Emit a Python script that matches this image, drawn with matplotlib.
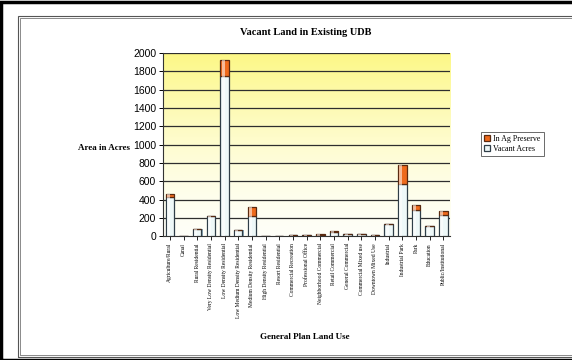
import numpy as np
import matplotlib
matplotlib.use("Agg")
import matplotlib.pyplot as plt
from matplotlib.patches import Rectangle

categories = [
    "Agriculture/Rural", "Canal", "Rural Residential", "Very Low Density Residential",
    "Low Density Residential", "Low Medium Density Residential", "Medium Density Residential",
    "High Density Residential", "Resort Residential", "Commercial Recreation",
    "Professional Office", "Neighborhood Commercial", "Retail Commercial",
    "General Commercial", "Commercial Mixed use", "Downtown Mixed Use", "Industrial",
    "Industrial Park", "Park", "Education", "Public/Institutional",
]
vacant_acres = [425, 5, 75, 215, 1750, 65, 225, 5, 5, 8, 8, 15, 40, 25, 28, 8, 135, 565, 285, 115, 230]
ag_preserve = [40, 0, 0, 0, 170, 0, 90, 0, 0, 0, 0, 5, 12, 0, 0, 0, 0, 210, 55, 0, 45]
y_ticks = list(range(0, 2001, 200))

fig = plt.figure(figsize=(5.72, 3.6), dpi=100)
fig.patch.set_facecolor("white")

# page frame: heavy outer rule and a thin double inner rule
fig.add_artist(Rectangle((0.002, 0.0), 1.2, 0.995, transform=fig.transFigure,
                         fill=False, ec="black", lw=2.5))
fig.add_artist(Rectangle((0.031, 0.008), 1.2, 0.948, transform=fig.transFigure,
                         fill=False, ec="#555555", lw=0.8))
fig.add_artist(Rectangle((0.035, 0.014), 1.2, 0.936, transform=fig.transFigure,
                         fill=False, ec="#777777", lw=0.6))

ax = fig.add_axes([0.285, 0.344, 0.502, 0.509])
x = np.arange(len(categories))
ax.set_xlim(-0.5, len(categories) - 0.5)
ax.set_ylim(0, 2000)

# yellow-to-white wall gradient
grad = np.linspace(0, 1, 256).reshape(-1, 1)
top = np.array([0.99, 0.97, 0.52])
bottom = np.array([1.0, 1.0, 0.97])
img = bottom + (top - bottom) * grad ** 1.5
img = np.repeat(img[:, None, :], 2, axis=1)
ax.imshow(img, extent=[-0.5, len(categories) - 0.5, 0, 2000], origin="lower",
          aspect="auto", zorder=0)

for yv in y_ticks[1:]:
    ax.axhline(yv, color="#2e2e2e", lw=0.9, zorder=1)

w = 0.62
vac = np.array(vacant_acres)
ag = np.array(ag_preserve)
# depth shading behind each column
ax.bar(x + 0.08, vac + ag, width=w, bottom=0, color="#8aa4b4", edgecolor="none", zorder=2)
ax.bar(x, vac, width=w, color="#eef8f8", edgecolor="#2f3e48", lw=0.9, zorder=3,
       label="Vacant Acres")
ax.bar(x, ag, width=w, bottom=vac, color="#ee6a1c", edgecolor="#5a2a10", lw=0.9, zorder=3,
       label="In Ag Preserve")
# light stripe on the cylinder face
ax.bar(x - 0.1, vac + ag, width=w * 0.35, color="white", alpha=0.55, edgecolor="none", zorder=4)

for s in ["top", "right"]:
    ax.spines[s].set_visible(False)
ax.spines["left"].set_color("#333333")
ax.spines["bottom"].set_color("#333333")
ax.spines["left"].set_linewidth(0.8)
ax.spines["bottom"].set_linewidth(0.8)

ax.set_yticks(y_ticks)
ax.set_yticklabels([str(v) for v in y_ticks], fontfamily="Liberation Sans", fontsize=7.5)
ax.tick_params(axis="y", length=3, width=0.7, pad=2)
ax.set_xticks(x)
ax.set_xticklabels(categories, rotation=90, fontfamily="Liberation Serif", fontsize=4.0,
                   va="top", ha="center")
ax.tick_params(axis="x", length=3, width=0.6, pad=2)

fig.text(0.535, 0.91, "Vacant Land in Existing UDB", ha="center", va="center",
         fontfamily="Liberation Serif", fontweight="bold", fontsize=7.5)
fig.text(0.136, 0.589, "Area in Acres", ha="left", va="center",
         fontfamily="Liberation Serif", fontweight="bold", fontsize=6.5)
fig.text(0.533, 0.064, "General Plan Land Use", ha="center", va="center",
         fontfamily="Liberation Serif", fontweight="bold", fontsize=6.5)

handles, labels = ax.get_legend_handles_labels()
leg = fig.legend(handles[::-1], labels[::-1], loc="center left", bbox_to_anchor=(0.833, 0.6),
                 prop={"family": "Liberation Serif", "size": 5.8}, frameon=True,
                 fancybox=False, edgecolor="#444444", handlelength=0.8, handleheight=0.8,
                 handletextpad=0.4, borderpad=0.4, labelspacing=0.3)
leg.get_frame().set_linewidth(0.7)

fig.savefig("out.png", dpi=100)
